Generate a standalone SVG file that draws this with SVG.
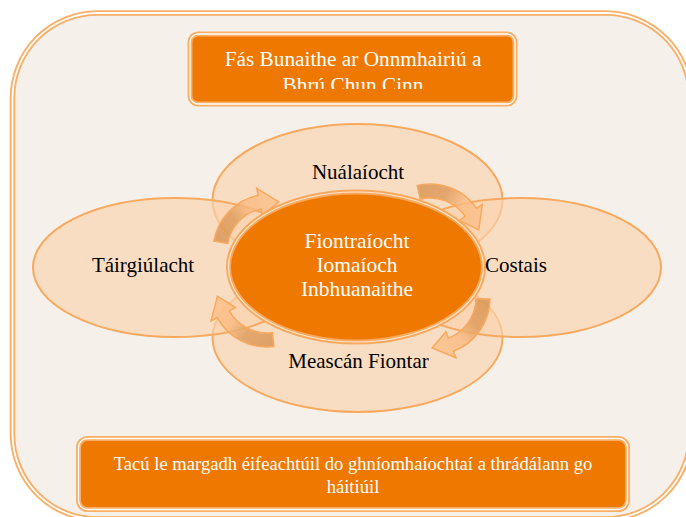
<svg xmlns="http://www.w3.org/2000/svg" width="686" height="517" viewBox="0 0 686 517">
<style>
.frame{fill:#F5F1EA;stroke:#FBAE66;stroke-width:5.5}
.gap{fill:none;stroke:#FFFFFF;stroke-width:1.8}
.box{fill:#EF7800;stroke:#FBAE66;stroke-width:5}
.boxgap{fill:none;stroke:#FFFFFF;stroke-width:1.3}
.outer{fill:#FAD3AE;fill-opacity:0.65;stroke:#F9A95E;stroke-width:2}
.core{fill:#EF7800;stroke:#F9A95E;stroke-width:5}
.coregap{fill:none;stroke:#FFE6CF;stroke-width:1.2}
.arrow{fill-opacity:0.8;stroke:#F9A95E;stroke-width:1.5}
.lbl{font-family:"Liberation Serif","Times New Roman",serif;font-size:21px;fill:#000000;text-anchor:middle}
.wt{font-family:"Liberation Serif","Times New Roman",serif;fill:#FFFFFF;text-anchor:middle}
</style>
<defs>
<clipPath id="clipTopBox"><rect x="190" y="34" width="325" height="55"/></clipPath>
<linearGradient id="gTR" gradientUnits="userSpaceOnUse" x1="418" y1="192" x2="479" y2="230">
<stop offset="0" stop-color="#D8924F"/><stop offset="0.35" stop-color="#DE9A58"/><stop offset="0.6" stop-color="#FABA82"/><stop offset="1" stop-color="#FCC08A"/>
</linearGradient>
<linearGradient id="gBR" gradientUnits="userSpaceOnUse" x1="484" y1="299" x2="432" y2="348">
<stop offset="0" stop-color="#D8924F"/><stop offset="0.35" stop-color="#DE9A58"/><stop offset="0.6" stop-color="#FABA82"/><stop offset="1" stop-color="#FCC08A"/>
</linearGradient>
<linearGradient id="gBL" gradientUnits="userSpaceOnUse" x1="273" y1="340" x2="217" y2="296">
<stop offset="0" stop-color="#D8924F"/><stop offset="0.35" stop-color="#DE9A58"/><stop offset="0.6" stop-color="#FABA82"/><stop offset="1" stop-color="#FCC08A"/>
</linearGradient>
<linearGradient id="gTL" gradientUnits="userSpaceOnUse" x1="221" y1="242" x2="279" y2="202">
<stop offset="0" stop-color="#D8924F"/><stop offset="0.35" stop-color="#DE9A58"/><stop offset="0.6" stop-color="#FABA82"/><stop offset="1" stop-color="#FCC08A"/>
</linearGradient>
</defs>

<g id="frame">
<rect class="frame" x="12.5" y="13" width="678" height="506" rx="85"/>
<rect class="gap" x="12.5" y="13" width="678" height="506" rx="85"/>
</g>

<g id="node-top-box">
<rect class="box" x="190" y="34" width="325" height="70" rx="8"/>
<rect class="boxgap" x="190" y="34" width="325" height="70" rx="8"/>
<g clip-path="url(#clipTopBox)">
<text class="wt" font-size="21.3" x="353" y="66">Fás Bunaithe ar Onnmhairiú a</text>
<text class="wt" font-size="21.3" x="353" y="91.5">Bhrú Chun Cinn</text>
</g>
</g>

<g id="node-nualaiocht">
<ellipse class="outer" cx="357.5" cy="200" rx="145" ry="76"/>
</g>
<g id="node-meascan">
<ellipse class="outer" cx="357.5" cy="338" rx="145" ry="74"/>
</g>
<g id="node-tairgiulacht">
<ellipse class="outer" cx="175" cy="267.5" rx="142" ry="69.5"/>
</g>
<g id="node-costais">
<ellipse class="outer" cx="520" cy="267.5" rx="141" ry="69.5"/>
</g>

<g id="connectors">
<path class="arrow" fill="url(#gTL)" d="M213.9,241.1 A57,57 0 0,1 258.1,195.2 L256.7,188.4 L278.7,201.8 L262.5,215.8 L261.1,208.9 A43,43 0 0,0 227.7,243.5 Z"/>
<path class="arrow" fill="url(#gTR)" d="M417.2,185.5 A57,57 0 0,1 476.7,208.3 L482.4,204.3 L478.7,229.8 L459.5,220.4 L465.2,216.3 A43,43 0 0,0 420.3,199.1 Z"/>
<path class="arrow" fill="url(#gBR)" d="M490,299 A57,57 0 0,1 453.4,351.2 L455.9,357.8 L432.1,348 L445.9,331.6 L448.4,338.1 A43,43 0 0,0 476,298.8 Z"/>
<path class="arrow" fill="url(#gBL)" d="M274,346.6 A57,57 0 0,1 217.1,317.6 L211,321 L217.4,296.1 L235.5,307.5 L229.4,310.8 A43,43 0 0,0 272.2,332.7 Z"/>
</g>

<g id="node-center">
<ellipse class="core" cx="356" cy="267" rx="127.5" ry="75"/>
<ellipse class="coregap" cx="356" cy="267" rx="127.5" ry="75"/>
<text class="wt" font-size="21.5" x="357" y="248">Fiontraíocht</text>
<text class="wt" font-size="21.5" x="357" y="272">Iomaíoch</text>
<text class="wt" font-size="21.5" x="357" y="296">Inbhuanaithe</text>
</g>

<g id="labels">
<text class="lbl" x="358" y="179">Nuálaíocht</text>
<text class="lbl" x="358.5" y="368">Meascán Fiontar</text>
<text class="lbl" x="143" y="272">Táirgiúlacht</text>
<text class="lbl" x="516" y="272">Costais</text>
</g>

<g id="node-bottom-box">
<rect class="box" x="78.5" y="438.5" width="549" height="71" rx="9"/>
<rect class="boxgap" x="78.5" y="438.5" width="549" height="71" rx="9"/>
<text class="wt" font-size="18.6" x="353" y="470">Tacú le margadh éifeachtúil do ghníomhaíochtaí a thrádálann go</text>
<text class="wt" font-size="18.6" x="353" y="493">háitiúil</text>
</g>
</svg>
